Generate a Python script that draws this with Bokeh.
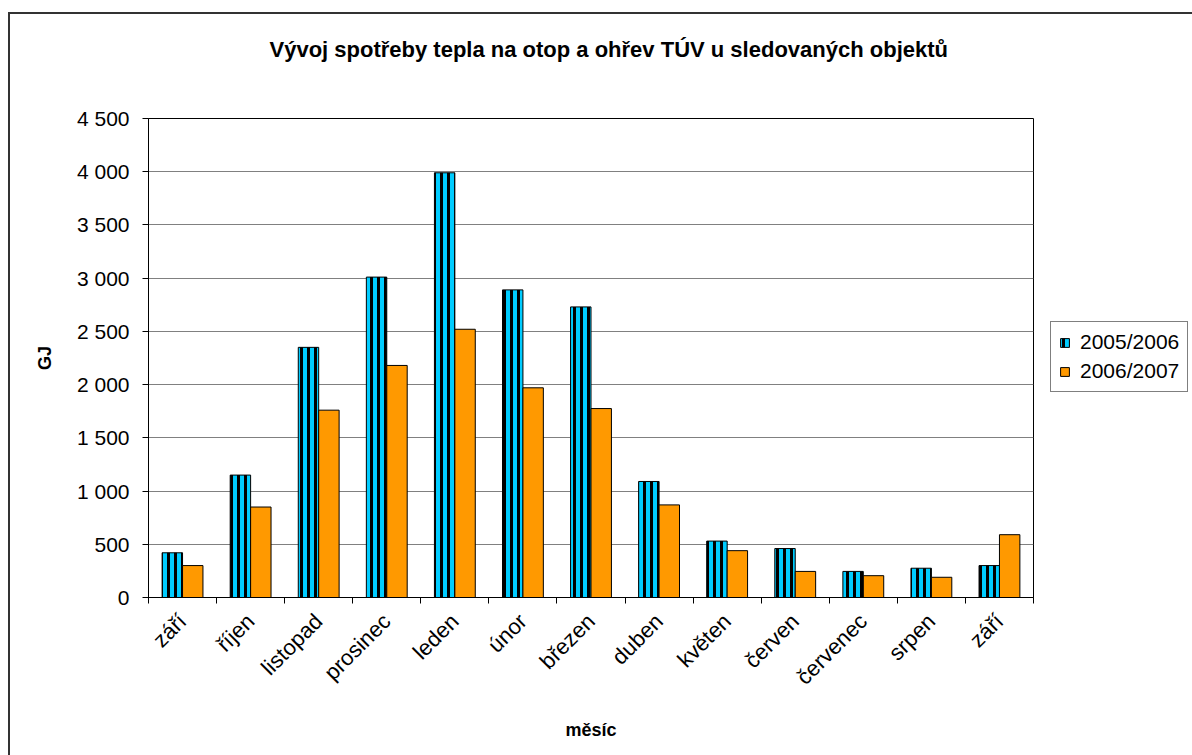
import numpy as np
from bokeh.plotting import figure
from bokeh.models import (ColumnDataSource, FixedTicker, CustomJSTickFormatter, Legend,
                          LegendItem, Range1d, Title)
from bokeh.embed import file_html
from bokeh.resources import INLINE

months = ["září", "říjen", "listopad", "prosinec", "leden", "únor", "březen",
          "duben", "květen", "červen", "červenec", "srpen", "září"]
s2005 = [420, 1150, 2350, 3010, 3990, 2890, 2730, 1090, 530, 460, 245, 275, 300]
s2006 = [300, 850, 1760, 2180, 2520, 1970, 1775, 870, 440, 245, 205, 190, 590]
series_names = ["2005/2006", "2006/2007"]
y_ticks = [0, 500, 1000, 1500, 2000, 2500, 3000, 3500, 4000, 4500]
title_text = "Vývoj spotřeby tepla na otop a ohřev TÚV u sledovaných objektů"

idx = np.arange(len(months))
src = ColumnDataSource(dict(xa=idx + 0.35, xb=idx + 0.65, a=s2005, b=s2006))

FONT = "Liberation Sans"

p = figure(frame_width=885, frame_height=479, output_backend="svg", toolbar_location=None,
           x_range=Range1d(0, len(months)), y_range=Range1d(0, 4500),
           min_border_left=138, min_border_right=159, min_border_top=104,
           min_border_bottom=158)
p.styles = {"margin-left": "8px", "margin-top": "12px",
            "border-left": "2px solid #333333", "border-top": "2px solid #333333"}
p.background_fill_color = "white"
p.border_fill_color = "white"
p.outline_line_color = "#000000"
p.outline_line_width = 1
p.title.text = ""

# blank spacer title between the chart title and the plot area
spacer = Title(text=" ", text_font=FONT, text_font_size="10px", standoff=44)
p.add_layout(spacer, "above")

title = Title(text=title_text, align="left", vertical_align="bottom", text_font=FONT,
              text_font_size="22px", text_font_style="bold", text_color="black",
              offset=121, standoff=0)
p.add_layout(title, "above")

r1 = p.vbar(x="xa", top="a", width=0.3, source=src, fill_color="#00CCFF",
            line_color="black", line_width=1, hatch_pattern="vertical_line",
            hatch_color="black", hatch_scale=7, hatch_weight=3)
r2 = p.vbar(x="xb", top="b", width=0.3, source=src, fill_color="#FF9900",
            line_color="black", line_width=1)

# y axis
ya = p.left[0]
ya.ticker = FixedTicker(ticks=y_ticks)
ya.formatter = CustomJSTickFormatter(code="""
return tick.toFixed(0).replace(/\\B(?=(\\d{3})+(?!\\d))/g, " ");
""")
ya.major_label_text_font = FONT
ya.major_label_text_font_size = "21px"
ya.major_label_text_color = "black"
ya.major_label_standoff = 13
ya.major_tick_out = 6
ya.major_tick_in = 0
ya.minor_tick_out = 0
ya.minor_tick_in = 0
ya.axis_line_color = "black"
ya.major_tick_line_color = "black"
ya.axis_label = "GJ"
ya.axis_label_text_font = FONT
ya.axis_label_text_font_size = "18px"
ya.axis_label_text_font_style = "bold"
ya.axis_label_text_color = "black"
ya.axis_label_standoff = 19

# x axis: labels at category centres, ticks at category boundaries
xa = p.below[0]
xa.ticker = FixedTicker(ticks=list(idx + 0.5), minor_ticks=list(range(len(months) + 1)))
xa.formatter = CustomJSTickFormatter(args=dict(labels=months), code="""
return labels[Math.floor(tick)];
""")
xa.major_tick_in = 0
xa.major_tick_out = 0
xa.minor_tick_in = 0
xa.minor_tick_out = 6
xa.minor_tick_line_color = "black"
xa.axis_line_color = "black"
xa.major_label_orientation = np.pi / 4
xa.major_label_standoff = 14
xa.major_label_text_font = FONT
xa.major_label_text_font_size = "22px"
xa.major_label_text_color = "black"
xa.axis_label = "měsíc"
xa.axis_label_text_font = FONT
xa.axis_label_text_font_size = "18px"
xa.axis_label_text_font_style = "bold"
xa.axis_label_text_color = "black"
xa.axis_label_standoff = 19

p.xgrid.grid_line_color = None
p.ygrid.grid_line_color = "#808080"
p.ygrid.grid_line_width = 1

legend = Legend(items=[LegendItem(label=series_names[0], renderers=[r1]),
                       LegendItem(label=series_names[1], renderers=[r2])],
                location=(17, 205), border_line_color="black", border_line_width=1,
                label_text_font=FONT, label_text_font_size="21px", label_text_color="black",
                glyph_width=11, glyph_height=11, label_standoff=10,
                padding=8, spacing=5, margin=0, background_fill_alpha=1)
p.add_layout(legend, "right")

open("out.html", "w").write(file_html(p, INLINE))
